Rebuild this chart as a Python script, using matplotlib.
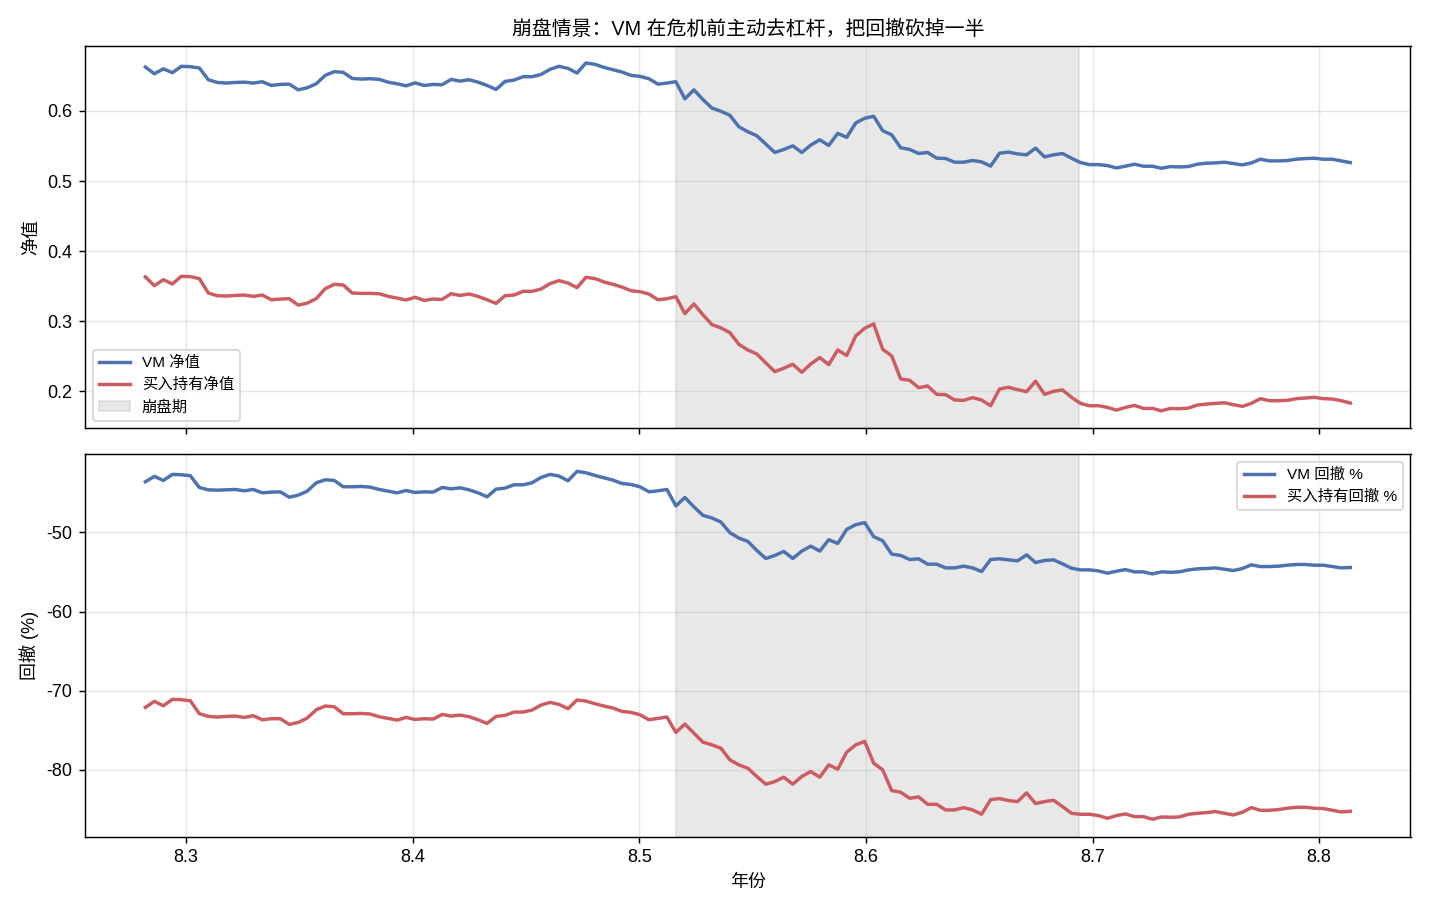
import numpy as np
import matplotlib
matplotlib.use("Agg")
import matplotlib.pyplot as plt

plt.rcParams['font.family'] = ['Liberation Sans', 'Noto Sans CJK SC', 'DejaVu Sans']
plt.rcParams['axes.unicode_minus'] = False

# 交易日（年），从 8.282 起，每年 252 个交易日
t0 = 8.282
n_days = 135
years = t0 + np.arange(n_days) / 252

crash_start = 8.516
crash_end = 8.694

vm_nav = [
    0.6626, 0.653, 0.660, 0.6545, 0.6636, 0.6631, 0.6612, 0.6445, 0.6406, 0.6397,
    0.6406, 0.641, 0.6397, 0.6416, 0.6363, 0.6378, 0.6382, 0.6301, 0.633, 0.6387,
    0.6507, 0.656, 0.655, 0.6464, 0.6454, 0.6459, 0.645, 0.641, 0.6387, 0.6358,
    0.640, 0.6363, 0.6378, 0.6373, 0.645, 0.6425, 0.6445, 0.641, 0.6363, 0.6306,
    0.642, 0.644, 0.6488, 0.6488, 0.652, 0.6593, 0.6636, 0.6607, 0.654, 0.6684,
    0.6665, 0.6621, 0.6588, 0.6555, 0.6507, 0.6493, 0.6459, 0.6382, 0.6397, 0.6416,
    0.6172, 0.630, 0.6163, 0.6041, 0.5995, 0.5938, 0.5775, 0.5703, 0.5646, 0.5527,
    0.5407, 0.545, 0.5502, 0.5407, 0.5512, 0.5588, 0.5507, 0.568, 0.5623, 0.5828,
    0.5895, 0.5924, 0.5717, 0.566, 0.5474, 0.545, 0.5393, 0.5407, 0.5326, 0.5321,
    0.5268, 0.5268, 0.5293, 0.5273, 0.5213, 0.5397, 0.5412, 0.5387, 0.5373, 0.5469,
    0.5344, 0.5373, 0.5392, 0.5325, 0.5263, 0.5234, 0.5234, 0.522, 0.5187, 0.5211,
    0.524, 0.5211, 0.5211, 0.5182, 0.5206, 0.5201, 0.5206, 0.524, 0.5254, 0.5258,
    0.5268, 0.5249, 0.523, 0.5258, 0.5311, 0.5287, 0.5287, 0.5292, 0.5311, 0.532,
    0.5325, 0.5311, 0.5311, 0.5287, 0.5263,
]

bh_nav = [
    0.3632, 0.3507, 0.3593, 0.3531, 0.3641, 0.3636, 0.3608, 0.3402, 0.3364, 0.3359,
    0.3368, 0.3373, 0.3354, 0.3373, 0.3306, 0.3316, 0.3321, 0.323, 0.3258, 0.3321,
    0.3464, 0.3526, 0.3517, 0.3402, 0.3397, 0.3397, 0.3392, 0.3354, 0.333, 0.3302,
    0.3342, 0.3297, 0.3316, 0.3311, 0.3392, 0.3368, 0.3388, 0.3354, 0.3306, 0.3254,
    0.3364, 0.3373, 0.3426, 0.3426, 0.3459, 0.3536, 0.3579, 0.3545, 0.3478, 0.3627,
    0.3608, 0.356, 0.3526, 0.3488, 0.3435, 0.3421, 0.3388, 0.3306, 0.3321, 0.335,
    0.3108, 0.3246, 0.3093, 0.2952, 0.2905, 0.2838, 0.2671, 0.259, 0.2533, 0.2405,
    0.2281, 0.2329, 0.2386, 0.2271, 0.239, 0.2481, 0.2381, 0.259, 0.251, 0.279,
    0.29, 0.2962, 0.26, 0.2505, 0.2176, 0.2157, 0.2052, 0.2076, 0.1957, 0.1952,
    0.1876, 0.1871, 0.191, 0.1876, 0.1795, 0.2033, 0.2057, 0.2024, 0.1995, 0.2144,
    0.1957, 0.2, 0.2019, 0.1914, 0.1828, 0.1794, 0.1794, 0.177, 0.1732, 0.177,
    0.1799, 0.1756, 0.1756, 0.1722, 0.1756, 0.1751, 0.1761, 0.1804, 0.1818, 0.1828,
    0.1837, 0.1809, 0.1785, 0.1828, 0.1895, 0.1866, 0.1866, 0.1871, 0.1895, 0.1904,
    0.1914, 0.1895, 0.189, 0.1866, 0.1833,
]

vm_dd = [
    -43.61, -42.93, -43.44, -42.68, -42.72, -42.85, -44.33, -44.63, -44.67, -44.63,
    -44.58, -44.75, -44.58, -45.01, -44.92, -44.88, -45.56, -45.30, -44.79, -43.74,
    -43.36, -43.44, -44.24, -44.24, -44.20, -44.29, -44.58, -44.79, -45.01, -44.71,
    -44.96, -44.88, -44.92, -44.33, -44.50, -44.37, -44.63, -45.01, -45.51, -44.54,
    -44.41, -43.99, -43.99, -43.74, -43.06, -42.68, -42.89, -43.48, -42.30, -42.47,
    -42.81, -43.10, -43.40, -43.82, -43.95, -44.24, -44.88, -44.75, -44.58, -46.66,
    -45.60, -46.78, -47.84, -48.18, -48.69, -50.04, -50.72, -51.14, -52.29, -53.30,
    -52.92, -52.41, -53.30, -52.37, -51.74, -52.37, -50.93, -51.40, -49.62, -49.03,
    -48.77, -50.55, -51.06, -52.75, -52.92, -53.43, -53.34, -54.02, -54.02, -54.49,
    -54.49, -54.27, -54.49, -54.95, -53.43, -53.34, -53.47, -53.60, -52.84, -53.81,
    -53.55, -53.47, -53.98, -54.53, -54.74, -54.74, -54.87, -55.16, -54.91, -54.70,
    -54.99, -54.99, -55.25, -54.99, -55.04, -54.99, -54.74, -54.61, -54.57, -54.49,
    -54.66, -54.82, -54.57, -54.10, -54.32, -54.32, -54.27, -54.15, -54.06, -54.06,
    -54.15, -54.15, -54.32, -54.49, -54.44,
]

bh_dd = [
    -72.11, -71.35, -71.90, -71.10, -71.14, -71.27, -72.91, -73.25, -73.33, -73.25,
    -73.21, -73.38, -73.16, -73.67, -73.54, -73.54, -74.26, -74.01, -73.46, -72.41,
    -71.94, -72.03, -72.91, -72.91, -72.87, -72.95, -73.29, -73.50, -73.71, -73.38,
    -73.63, -73.54, -73.59, -73.00, -73.21, -73.08, -73.29, -73.67, -74.14, -73.25,
    -73.12, -72.70, -72.70, -72.45, -71.81, -71.48, -71.73, -72.28, -71.18, -71.31,
    -71.65, -71.94, -72.19, -72.62, -72.74, -73.04, -73.67, -73.50, -73.33, -75.27,
    -74.22, -75.36, -76.50, -76.84, -77.26, -78.73, -79.37, -79.79, -80.84, -81.81,
    -81.48, -80.93, -81.81, -80.84, -80.21, -80.93, -79.37, -79.92, -77.76, -76.84,
    -76.41, -79.16, -80.00, -82.62, -82.83, -83.59, -83.42, -84.35, -84.35, -85.06,
    -85.06, -84.77, -85.06, -85.61, -83.76, -83.63, -83.88, -84.01, -82.91, -84.26,
    -84.01, -83.84, -84.64, -85.49, -85.61, -85.61, -85.78, -86.12, -85.78, -85.57,
    -85.91, -85.91, -86.24, -85.95, -85.99, -85.95, -85.61, -85.49, -85.40, -85.27,
    -85.49, -85.70, -85.36, -84.77, -85.11, -85.11, -85.02, -84.85, -84.73, -84.73,
    -84.85, -84.89, -85.11, -85.32, -85.23,
]

blue = '#4C72B0'
red = '#CD5C62'

fig, (ax1, ax2) = plt.subplots(2, 1, figsize=(11, 7), dpi=130, sharex=True)

ax1.plot(years, vm_nav, color=blue, lw=1.9, label='VM 净值')
ax1.plot(years, bh_nav, color=red, lw=1.9, label='买入持有净值')
ax1.axvspan(crash_start, crash_end, color='gray', alpha=0.18, label='崩盘期')
ax1.set_ylabel('净值')
ax1.set_title('崩盘情景：VM 在危机前主动去杠杆，把回撤砍掉一半', fontsize=11)
ax1.grid(alpha=0.3)
ax1.legend(loc='lower left', fontsize=8.5)

ax2.plot(years, vm_dd, color=blue, lw=1.9, label='VM 回撤 %')
ax2.plot(years, bh_dd, color=red, lw=1.9, label='买入持有回撤 %')
ax2.axvspan(crash_start, crash_end, color='gray', alpha=0.18)
ax2.set_ylabel('回撤 (%)')
ax2.set_xlabel('年份')
ax2.grid(alpha=0.3)
ax2.legend(loc='upper right', fontsize=8.5)

plt.tight_layout()
plt.savefig('out.png')
